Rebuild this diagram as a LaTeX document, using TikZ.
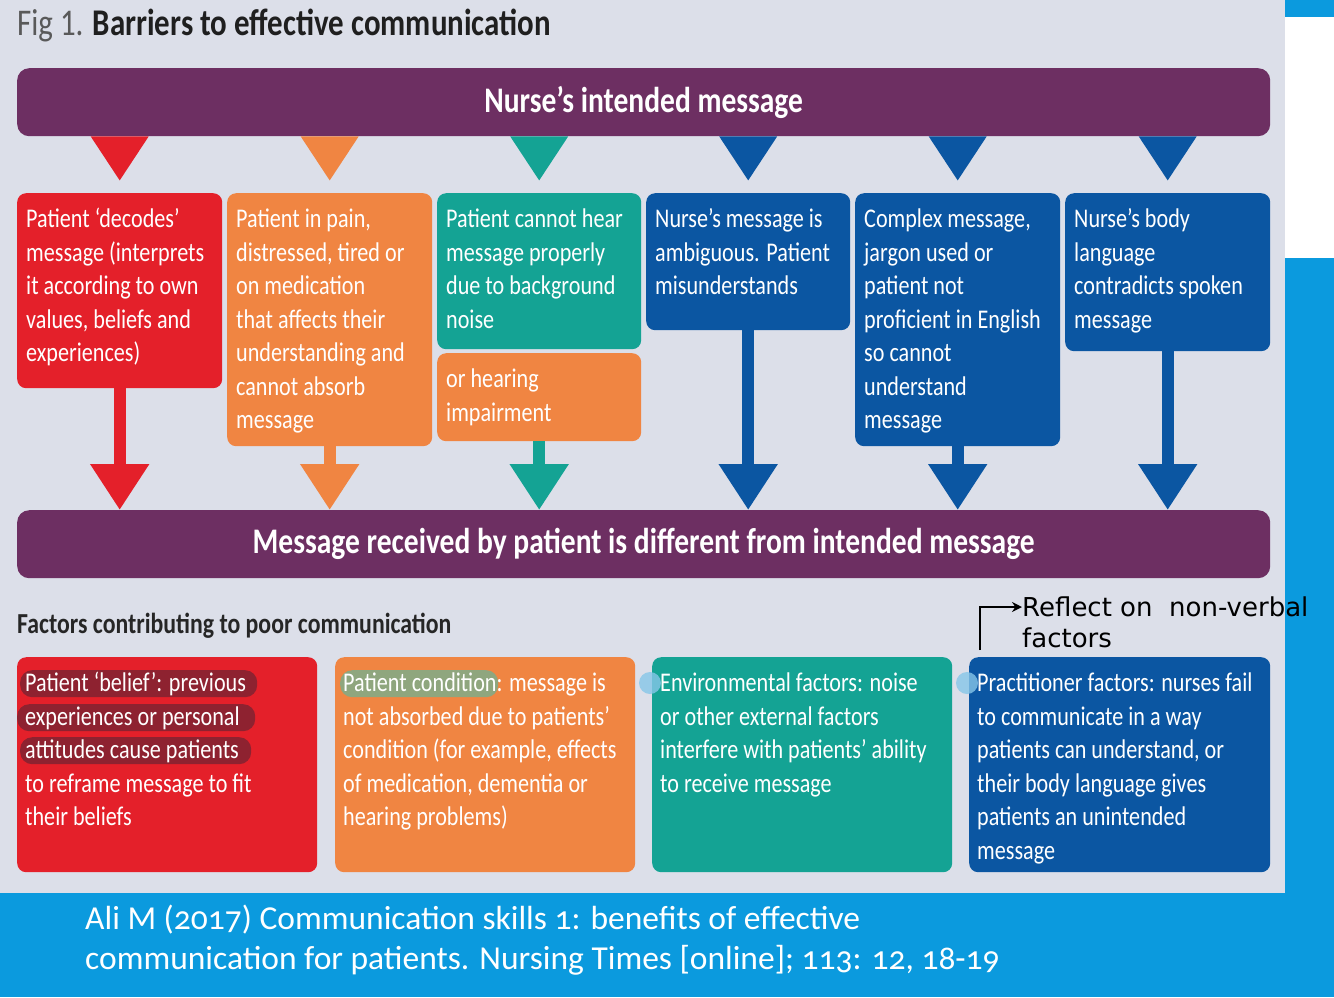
\documentclass[tikz,border=0pt]{standalone}
\usepackage{fontspec}
\setmainfont[FakeStretch=0.82]{Carlito}
\newfontfamily\citefont[Numbers=OldStyle]{Carlito}
\newfontfamily\handfont{DejaVu Sans}
\usetikzlibrary{arrows.meta,calc}
\definecolor{cbg}{HTML}{DCDFE9}
\definecolor{cpurple}{HTML}{6D2F62}
\definecolor{cred}{HTML}{E4202A}
\definecolor{corange}{HTML}{F08542}
\definecolor{cteal}{HTML}{14A394}
\definecolor{cblue}{HTML}{0B56A2}
\definecolor{ccyan}{HTML}{0B9ADE}
\definecolor{chl}{HTML}{8E2230}
\definecolor{cgreenhl}{HTML}{8FA67E}
\definecolor{cblob}{HTML}{86C6E8}
\newcommand{\boxtxt}[3]{\parbox[c][#2][t]{#1}{\vspace*{11pt}\raggedright\strut #3}}
\tikzset{
  box/.style={rounded corners=9pt, anchor=north west, inner xsep=9pt, inner ysep=0pt,
    text=white, font=\fontsize{27}{33.5}\selectfont},
  fbox/.style={rounded corners=9pt, anchor=north west, inner xsep=8pt, inner ysep=0pt,
    text=white, font=\fontsize{27}{33.5}\selectfont},
  bar/.style={rounded corners=12pt, fill=cpurple, anchor=north west, minimum width=1253pt,
    minimum height=68pt, inner sep=0pt, text=white, font=\fontsize{36}{40}\selectfont\bfseries},
  arr/.style={line width=12pt, draw=#1, -{Triangle[width=56pt,length=46pt]}},
  hand/.style={line width=2.5pt, black},
}
\begin{document}
\begin{tikzpicture}[x=1pt,y=-1pt]
\useasboundingbox (0,0) rectangle (1334,997);
% backgrounds
\fill[cbg] (0,0) rectangle (1285,893);
\fill[ccyan] (0,893) rectangle (1334,997);
\fill[ccyan] (1285,0) rectangle (1334,17);
\fill[white] (1285,17) rectangle (1334,258);
\fill[ccyan] (1285,258) rectangle (1334,893);
% title
\node[anchor=west, inner sep=0pt, font=\fontsize{37.7}{40}\selectfont] (title) at (17,25)
  {\textcolor{black!65}{Fig 1.} \textbf{\textcolor{black!88}{Barriers to effective communication}}};
% bars
\node[bar] (top) at (17,68) {Nurse’s intended message};
\node[bar] (bot) at (17,510) {Message received by patient is different from intended message};
% top row boxes
\node[box, fill=cred] (A) at (17,193) {\boxtxt{187pt}{195pt}{Patient ‘decodes’\\message (interprets\\it according to own\\values, beliefs and\\experiences)}};
\node[box, fill=corange] (B) at (227,193) {\boxtxt{187pt}{253pt}{Patient in pain,\\distressed, tired or\\on medication\\that affects their\\understanding and\\cannot absorb\\message}};
\node[box, fill=cteal] (C) at (437,193) {\boxtxt{186pt}{156pt}{Patient cannot hear\\message properly\\due to background\\noise}};
\node[box, fill=corange] (C2) at (437,353) {\boxtxt{186pt}{88pt}{or hearing\\impairment}};
\node[box, fill=cblue] (D) at (646,193) {\boxtxt{186pt}{137pt}{Nurse’s message is\\ambiguous. Patient\\misunderstands}};
\node[box, fill=cblue] (E) at (855,193) {\boxtxt{187pt}{253pt}{Complex message,\\jargon used or\\patient not\\proficient in English\\so cannot\\understand\\message}};
\node[box, fill=cblue] (F) at (1065,193) {\boxtxt{187pt}{158pt}{Nurse’s body\\language\\contradicts spoken\\message}};
% triangles from the top bar
\foreach \n/\c in {A/cred,B/corange,C/cteal,D/cblue,E/cblue,F/cblue}{
  \fill[\c] ($(\n.north |- top.south)+(-29,0)$) -- ($(\n.north |- top.south)+(29,0)$)
     -- ($(\n.north |- top.south)+(0,44)$) -- cycle;
}
% arrows to the bottom bar
\draw[arr=cred] (A.south) -- (A.south |- bot.north);
\draw[arr=corange] (B.south) -- (B.south |- bot.north);
\draw[arr=cteal] (C2.south) -- (C2.south |- bot.north);
\draw[arr=cblue] (D.south) -- (D.south |- bot.north);
\draw[arr=cblue] (E.south) -- (E.south |- bot.north);
\draw[arr=cblue] (F.south) -- (F.south |- bot.north);
% factors heading
\node[anchor=west, inner sep=0pt, font=\fontsize{29}{32}\selectfont\bfseries, text=black!85] (fh) at (17,626)
  {Factors contributing to poor communication};
% bottom boxes
\node[fbox, fill=cred, path picture={
    \coordinate (g0) at (path picture bounding box.north west);
    \fill[chl, rounded corners=12pt] ($(g0)+(3pt,-13pt)$) rectangle ($(g0)+(240pt,-40pt)$);
    \fill[chl, rounded corners=12pt] ($(g0)+(0pt,-47pt)$) rectangle ($(g0)+(238pt,-74pt)$);
    \fill[chl, rounded corners=12pt] ($(g0)+(3pt,-80pt)$) rectangle ($(g0)+(234pt,-107pt)$);}] (G) at (17,657)
  {\boxtxt{284pt}{215pt}{Patient ‘belief’: previous\\experiences or personal\\attitudes cause patients\\to reframe message to fit\\their beliefs}};
\node[fbox, fill=corange, path picture={
    \coordinate (h0) at (path picture bounding box.north west);
    \fill[cgreenhl, rounded corners=12pt] ($(h0)+(5pt,-13pt)$) rectangle ($(h0)+(163pt,-40pt)$);}] (H) at (335,657)
  {\boxtxt{284pt}{215pt}{Patient condition: message is\\not absorbed due to patients’\\condition (for example, effects\\of medication, dementia or\\hearing problems)}};
\node[fbox, fill=cteal] (I) at (652,657) {\boxtxt{284pt}{215pt}{Environmental factors: noise\\or other external factors\\interfere with patients’ ability\\to receive message}};
\node[fbox, fill=cblue] (J) at (969,657) {\boxtxt{285pt}{215pt}{Practitioner factors: nurses fail\\to communicate in a way\\patients can understand, or\\their body language gives\\patients an unintended\\message}};
% highlight marks at the left edges
\fill[cblob, fill opacity=0.8] (650,683) circle (11pt);
\fill[cblob, fill opacity=0.8] (967,683) circle (11pt);
% handwritten note
\node[anchor=west, inner sep=0pt, font=\handfont\fontsize{26}{30}\selectfont] (refl) at (1022,607) {Reflect on\ \ non-verbal};
\node[anchor=west, inner sep=0pt, font=\handfont\fontsize{26}{30}\selectfont] (fac) at (1022,638) {factors};
\coordinate (hs) at (980,650);
\draw[hand, -{Stealth[length=10pt,width=10pt]}] (hs) |- (refl.west);
% citation
\node[anchor=north west, inner sep=0pt, align=left, text=white, font=\citefont\fontsize{33.5}{40}\selectfont] (cite) at (85,905)
  {Ali M (2017) Communication skills 1: benefits of effective\\communication for patients. Nursing Times [online]; 113: 12, 18-19};
\end{tikzpicture}
\end{document}
